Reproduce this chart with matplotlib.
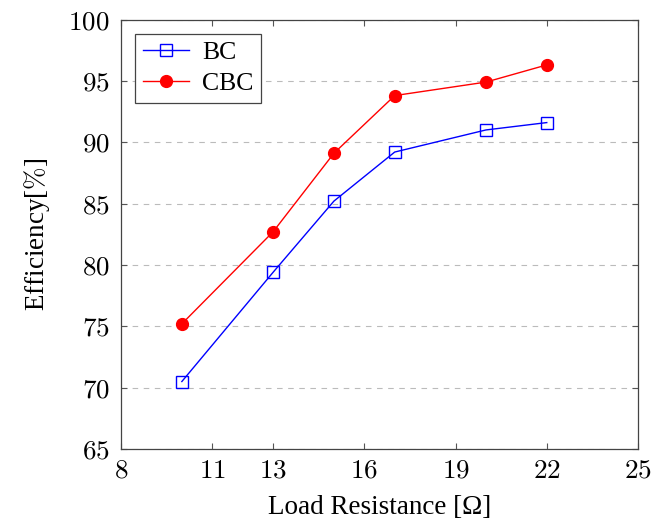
import matplotlib
matplotlib.use("Agg")
import matplotlib.pyplot as plt
from matplotlib.ticker import FuncFormatter

plt.rcParams['mathtext.fontset'] = 'cm'
plt.rcParams['font.family'] = ['Liberation Serif', 'DejaVu Serif']

load = [10, 13, 15, 17, 20, 22]
bc = [70.5, 79.4, 85.2, 89.2, 91.0, 91.6]
cbc = [75.2, 82.7, 89.1, 93.8, 94.9, 96.3]
xticks = [8, 11, 13, 16, 19, 22, 25]
yticks = [65, 70, 75, 80, 85, 90, 95, 100]

fig = plt.figure(figsize=(6.65, 5.2), dpi=100)
ax = fig.add_axes([0.182, 0.1365, 0.7774, 0.826])

ax.plot(load, bc, color='blue', lw=1, marker='s', ms=8, mfc='none', mec='blue', mew=1, label='BC')
ax.plot(load, cbc, color='red', lw=1, marker='o', ms=8.5, mfc='red', mec='red', label='CBC')

ax.set_xlim(8, 25)
ax.set_ylim(65, 100)
ax.set_xticks(xticks)
ax.set_yticks(yticks)
fmt = FuncFormatter(lambda v, p: r'$%d$' % v)
ax.xaxis.set_major_formatter(fmt)
ax.yaxis.set_major_formatter(fmt)
ax.tick_params(direction='in', top=True, right=True, labelsize=19.5, length=4, width=0.8, color='#555555')
ax.tick_params(axis='y', pad=8)
ax.tick_params(axis='x', pad=7)
ax.yaxis.grid(True, linestyle=(0, (5, 5)), color='#bbbbbb', lw=0.8)
for s in ax.spines.values():
    s.set_color('#444444')
    s.set_linewidth(0.9)

ax.set_xlabel('Load Resistance [Ω]', fontsize=19.5, labelpad=8)
ax.set_ylabel(r'Efficiency[$\%$]', fontsize=19.5, labelpad=12)

leg = ax.legend(loc='upper left', fontsize=18.5, fancybox=False, edgecolor='#444444',
                framealpha=1, borderaxespad=0.55, handlelength=1.8, handletextpad=0.5,
                borderpad=0.3, labelspacing=0.3)
leg.get_frame().set_linewidth(0.9)

fig.savefig('out.png', dpi=100)
